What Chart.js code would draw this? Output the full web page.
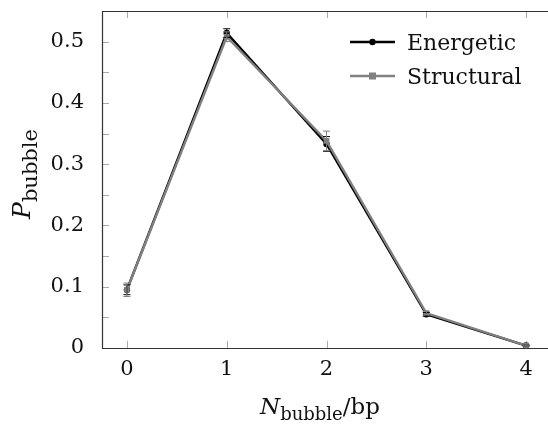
<!DOCTYPE html>
<html>
<head>
<meta charset="utf-8">
<script src="https://cdn.jsdelivr.net/npm/chart.js@4/dist/chart.umd.min.js"></script>
<style>
  html, body { margin: 0; padding: 0; background: #fff; overflow: hidden; }
  #wrap { width: 560px; height: 428px; }
</style>
</head>
<body>
<div id="wrap"><canvas id="c" width="560" height="428"></canvas></div>
<script>
// Bubble count per base pair and the probability of each count
const nBubble = [0, 1, 2, 3, 4];
const energeticP = [0.095, 0.514, 0.333, 0.055, 0.004];
const energeticErr = [0.008, 0.007, 0.012, 0.003, 0.001];
const structuralP = [0.095, 0.508, 0.338, 0.057, 0.004];
const structuralErr = [0.011, 0.008, 0.016, 0.003, 0.001];
const xTicks = [0, 1, 2, 3, 4];
const yTicks = [0, 0.1, 0.2, 0.3, 0.4, 0.5];
const yMinorTicks = [0.05, 0.15, 0.25, 0.35, 0.45];

const FONT = '"DejaVu Serif", "Liberation Serif", serif';

function pts(xs, ys) { return xs.map((x, i) => ({ x: x, y: ys[i] })); }

// Vertical error bars with caps
const errorBars = {
  id: 'errorBars',
  afterDatasetsDraw(chart) {
    const ctx = chart.ctx;
    const xs = chart.scales.x, ys = chart.scales.y;
    chart.data.datasets.forEach((ds) => {
      const errs = ds.errors;
      ctx.save();
      ctx.strokeStyle = ds.borderColor;
      ctx.lineWidth = 1;
      ds.data.forEach((p, i) => {
        const px = xs.getPixelForValue(p.x);
        const top = ys.getPixelForValue(p.y + errs[i]);
        const bot = ys.getPixelForValue(p.y - errs[i]);
        ctx.beginPath();
        ctx.moveTo(px, top); ctx.lineTo(px, bot);
        ctx.moveTo(px - 3.5, top); ctx.lineTo(px + 3.5, top);
        ctx.moveTo(px - 3.5, bot); ctx.lineTo(px + 3.5, bot);
        ctx.stroke();
      });
      ctx.restore();
    });
  }
};

// Frame, inward ticks, axis titles with subscripts and line+marker legend
const decorations = {
  id: 'decorations',
  beforeDatasetsDraw(chart) {
    const ctx = chart.ctx;
    const a = chart.chartArea;
    const xs = chart.scales.x, ys = chart.scales.y;
    ctx.save();
    ctx.strokeStyle = '#aaaaaa';
    ctx.lineWidth = 1;
    ctx.beginPath();
    xTicks.forEach(v => {
      const px = Math.round(xs.getPixelForValue(v)) + 0.5;
      ctx.moveTo(px, a.bottom); ctx.lineTo(px, a.bottom - 7);
      ctx.moveTo(px, a.top); ctx.lineTo(px, a.top + 7);
    });
    yTicks.concat(yMinorTicks).forEach(v => {
      const py = Math.round(ys.getPixelForValue(v)) + 0.5;
      ctx.moveTo(a.left, py); ctx.lineTo(a.left + 7, py);
    });
    ctx.stroke();
    ctx.restore();
  },
  afterDraw(chart) {
    const ctx = chart.ctx;
    const a = chart.chartArea;
    ctx.save();
    // frame (the right side lies past the canvas edge)
    ctx.strokeStyle = '#333333';
    ctx.lineWidth = 1.2;
    ctx.beginPath();
    ctx.moveTo(a.right + 2, a.top + 0.5);
    ctx.lineTo(a.left + 0.5, a.top + 0.5);
    ctx.lineTo(a.left + 0.5, a.bottom + 0.5);
    ctx.lineTo(a.right + 2, a.bottom + 0.5);
    ctx.stroke();

    ctx.fillStyle = '#111111';
    ctx.textBaseline = 'alphabetic';
    ctx.textAlign = 'left';

    // x title: N_bubble/bp
    const xBig = '23px ' + FONT, xBigI = 'italic 23px ' + FONT, xSub = '18px ' + FONT;
    ctx.font = xBigI; const wN = ctx.measureText('N').width;
    ctx.font = xSub; const wSubX = ctx.measureText('bubble').width;
    ctx.font = xBig; const wBp = ctx.measureText('/bp').width;
    const x0 = 320 - (wN + wSubX + wBp) / 2;
    const yb = 414;
    ctx.font = xBigI; ctx.fillText('N', x0, yb);
    ctx.font = xSub; ctx.fillText('bubble', x0 + wN, yb + 6);
    ctx.font = xBig; ctx.fillText('/bp', x0 + wN + wSubX, yb);

    // y title: P_bubble, rotated
    const yBigI = 'italic 25px ' + FONT, ySub = '21px ' + FONT;
    ctx.save();
    ctx.translate(30, 174);
    ctx.rotate(-Math.PI / 2);
    ctx.font = yBigI; const wP = ctx.measureText('P').width;
    ctx.font = ySub; const wSubY = ctx.measureText('bubble').width;
    const tot = wP + wSubY;
    ctx.font = yBigI; ctx.fillText('P', -tot / 2, 0);
    ctx.font = ySub; ctx.fillText('bubble', -tot / 2 + wP, 7);
    ctx.restore();

    // legend
    const lx0 = 350, lx1 = 395, tx = 407;
    const rows = [42, 76];
    chart.data.datasets.forEach((ds, i) => {
      const y = rows[i];
      ctx.strokeStyle = ds.borderColor;
      ctx.lineWidth = 2.4;
      ctx.beginPath(); ctx.moveTo(lx0, y); ctx.lineTo(lx1, y); ctx.stroke();
      ctx.fillStyle = ds.borderColor;
      const cx = (lx0 + lx1) / 2;
      if (ds.pointStyle === 'rect') {
        ctx.fillRect(cx - 3.5, y - 3.5, 7, 7);
      } else {
        ctx.beginPath(); ctx.arc(cx, y, 3.2, 0, Math.PI * 2); ctx.fill();
      }
      ctx.fillStyle = '#111111';
      ctx.font = '22px ' + FONT;
      ctx.fillText(ds.label, tx, y + 8);
    });
    ctx.restore();
  }
};

new Chart(document.getElementById('c'), {
  type: 'scatter',
  data: {
    datasets: [
      {
        label: 'Energetic',
        data: pts(nBubble, energeticP),
        errors: energeticErr,
        showLine: true,
        borderColor: '#000000',
        backgroundColor: '#000000',
        borderWidth: 2.4,
        pointStyle: 'circle',
        pointRadius: 3.2,
        pointBorderWidth: 0,
        order: 2
      },
      {
        label: 'Structural',
        data: pts(nBubble, structuralP),
        errors: structuralErr,
        showLine: true,
        borderColor: '#808080',
        backgroundColor: '#808080',
        borderWidth: 2.4,
        pointStyle: 'rect',
        pointRadius: 4,
        pointBorderWidth: 0,
        order: 1
      }
    ]
  },
  options: {
    responsive: false,
    animation: false,
    layout: { padding: { top: 11, right: 9, left: 0, bottom: 0 } },
    plugins: { legend: { display: false }, tooltip: { enabled: false } },
    scales: {
      x: {
        type: 'linear',
        min: -0.25,
        max: 4.25,
        afterBuildTicks(scale) { scale.ticks = xTicks.map(v => ({ value: v })); },
        afterFit(scale) { scale.height = 80; scale.paddingLeft = 0; scale.paddingRight = 0; },
        grid: { display: false },
        border: { display: false },
        ticks: {
          color: '#111111',
          font: { family: FONT, size: 21 },
          padding: 1,
          callback: v => String(v)
        }
      },
      y: {
        type: 'linear',
        min: 0,
        max: 0.55,
        afterBuildTicks(scale) { scale.ticks = yTicks.map(v => ({ value: v })); },
        afterFit(scale) { scale.width = 102; scale.paddingTop = 0; scale.paddingBottom = 0; },
        grid: { display: false },
        border: { display: false },
        ticks: {
          color: '#111111',
          font: { family: FONT, size: 21 },
          padding: 10,
          callback: v => (v === 0 ? '0' : v.toFixed(1))
        }
      }
    }
  },
  plugins: [decorations, errorBars]
});
</script>
</body>
</html>
